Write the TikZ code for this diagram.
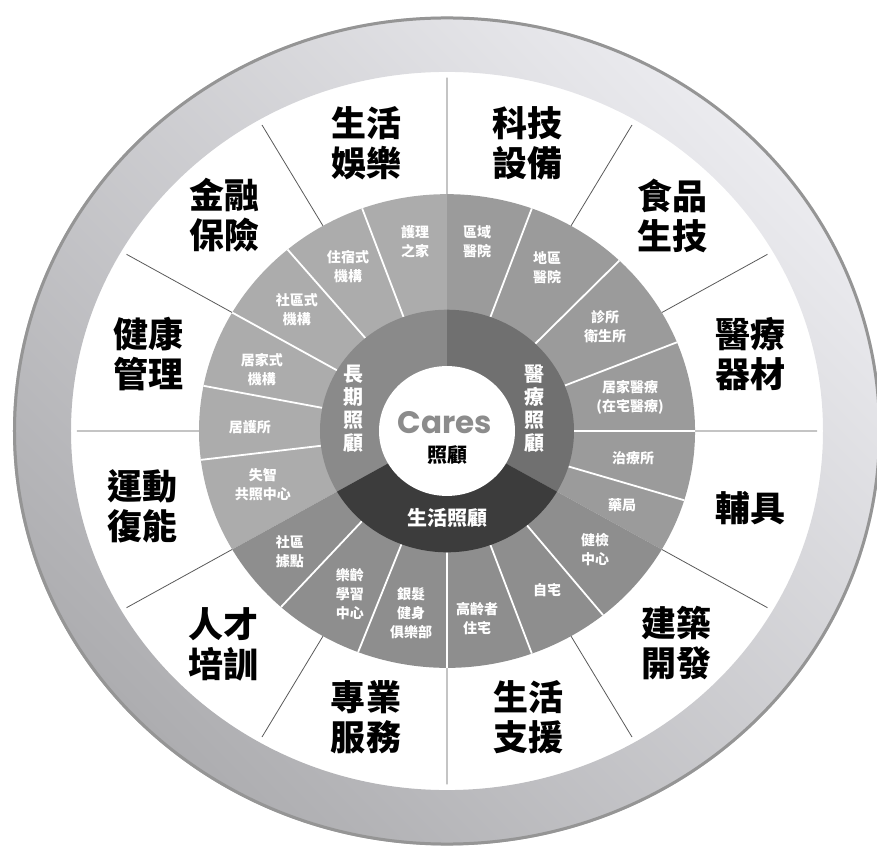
\documentclass[tikz,border=0pt]{standalone}
\usepackage{fontspec}
\newfontfamily\cjk{Noto Sans CJK TC}
\newfontfamily\caresfont{Poppins}
\usepackage{tikz}

\definecolor{ringlight}{HTML}{EBEBEF}
\definecolor{ringdark}{HTML}{ADADB0}
\definecolor{rimgray}{HTML}{959595}
\definecolor{ltcring}{HTML}{ACACAC}
\definecolor{medring}{HTML}{9B9B9B}
\definecolor{lifering}{HTML}{8E8E8E}
\definecolor{ltccore}{HTML}{8A8A8A}
\definecolor{medcore}{HTML}{707070}
\definecolor{lifecore}{HTML}{3C3C3C}
\definecolor{caresgray}{HTML}{8C8C8C}

\begin{document}
\begin{tikzpicture}[x=1pt, y=1pt,
outer/.style={font=\cjk\bfseries\fontsize{35}{40}\selectfont, align=center, inner sep=0pt},
item/.style={font=\cjk\bfseries\fontsize{14}{19}\selectfont, align=center, text=white, inner sep=0pt},
core/.style={font=\cjk\bfseries\fontsize{20}{23}\selectfont, align=center, text=white, inner sep=0pt},
divider/.style={draw=black!65, line width=0.8pt},
spoke/.style={draw=white, line width=1.8pt}]

\useasboundingbox (-447,-417) rectangle (430,431);

\begin{scope}[yscale=0.955]
% outer band
\shade[even odd rule, left color=ringlight, right color=ringdark, shading angle=-45]
  (0,0) circle (434) (0,0) circle (376);
\draw[rimgray, line width=3pt] (0,0) circle (432.5);

% twelve sectors
\draw[divider] (0:248) -- (0:370) (30:248) -- (30:370) (60:248) -- (60:370)
  (90:248) -- (90:370) (120:248) -- (120:370) (150:248) -- (150:370)
  (180:248) -- (180:370) (210:248) -- (210:370) (240:248) -- (240:370)
  (270:248) -- (270:370) (300:248) -- (300:370) (330:248) -- (330:370);

% service ring
\fill[ltcring] (0,0) -- (90:248) arc (90:210:248) -- cycle;
\fill[medring] (0,0) -- (-30:248) arc (-30:90:248) -- cycle;
\fill[lifering] (0,0) -- (210:248) arc (210:330:248) -- cycle;

\draw[spoke] (110:127) -- (110:248) (130:127) -- (130:248) (150:127) -- (150:248)
  (169:127) -- (169:248) (187:127) -- (187:248)
  (70:127) -- (70:248) (46:127) -- (46:248) (22:127) -- (22:248)
  (0:127) -- (0:248) (-17:127) -- (-17:248)
  (-51:127) -- (-51:248) (-70:127) -- (-70:248) (-90:127) -- (-90:248)
  (-111:127) -- (-111:248) (-132:127) -- (-132:248);

% care ring
\fill[ltccore] (0,0) -- (90:127) arc (90:210:127) -- cycle;
\fill[medcore] (0,0) -- (-30:127) arc (-30:90:127) -- cycle;
\fill[lifecore] (0,0) -- (210:127) arc (210:330:127) -- cycle;

\fill[white] (0,0) circle (68);
\end{scope}

% industries
\node[outer] (leisure) at (-80,288) {生活\\娛樂};
\node[outer] (tech)    at (80,288)  {科技\\設備};
\node[outer] (food)    at (225,215) {食品\\生技};
\node[outer] (meddev)  at (303,77)  {醫療\\器材};
\node[outer] (aids)    at (303,-77) {輔具};
\node[outer] (build)   at (229,-212) {建築\\開發};
\node[outer] (support) at (81,-286) {生活\\支援};
\node[outer] (service) at (-81,-286) {專業\\服務};
\node[outer] (talent)  at (-223,-213) {人才\\培訓};
\node[outer] (rehab)   at (-304,-75) {運動\\復能};
\node[outer] (health)  at (-298,77)  {健康\\管理};
\node[outer] (finance) at (-222,216) {金融\\保險};

% services
\node[item] (nursing)   at (-32,189)  {護理\\之家};
\node[item] (resid)     at (-99,164)  {住宿式\\機構};
\node[item] (commun)    at (-150,121) {社區式\\機構};
\node[item] (homeinst)  at (-185,61)  {居家式\\機構};
\node[item] (homenurse) at (-197,4)   {居護所};
\node[item] (dementia)  at (-184,-54) {失智\\共照中心};
\node[item] (station)   at (-157,-121) {社區\\據點};
\node[item] (learn)     at (-97,-163) {樂齡\\學習\\中心};
\node[item] (fitness)   at (-36,-182) {銀髮\\健身\\俱樂部};
\node[item] (senior)    at (30,-188)  {高齡者\\住宅};
\node[item] (ownhome)   at (100,-159) {自宅};
\node[item] (checkup)   at (148,-119) {健檢\\中心};
\node[item] (pharmacy)  at (175,-74)  {藥局};
\node[item] (therapy)   at (186,-27)  {治療所};
\node[item] (homemed)   at (183,34)   {居家醫療\\(在宅醫療)};
\node[item] (clinic)    at (158,104)  {診所\\衛生所};
\node[item] (district)  at (100,163)  {地區\\醫院};
\node[item] (regional)  at (30,189)   {區域\\醫院};

% care types
\node[core] (ltc)  at (-93,22) {長\\期\\照\\顧};
\node[core] (med)  at (87,22)  {醫\\療\\照\\顧};
\node[core] (life) at (0,-87)  {生活照顧};

\node[font=\caresfont\bfseries\fontsize{31}{31}\selectfont, text=caresgray] (cares) at (-2,8) {Cares};
\node[font=\cjk\bfseries\fontsize{20}{20}\selectfont] (caresub) at (0,-24) {照顧};

\end{tikzpicture}
\end{document}
